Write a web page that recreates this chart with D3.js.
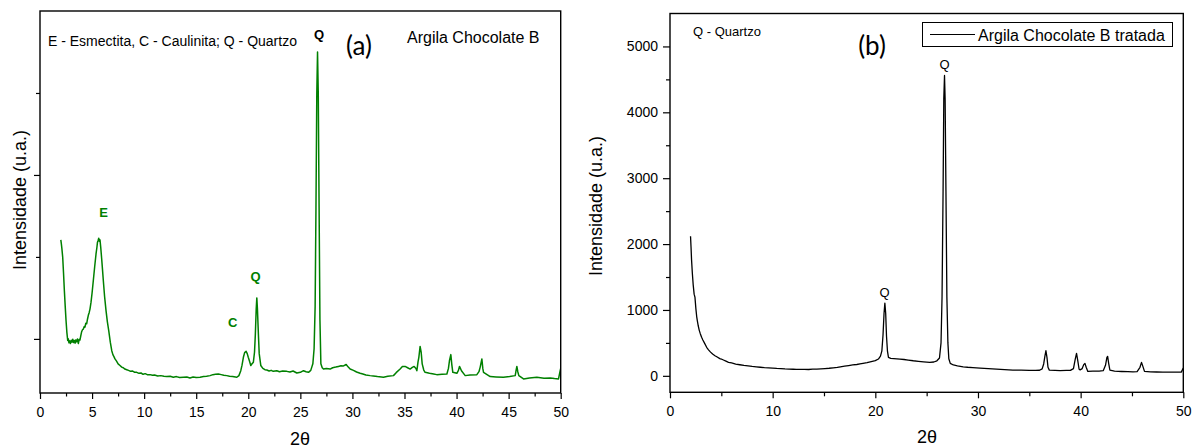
<!DOCTYPE html>
<html>
<head>
<meta charset="utf-8">
<script src="https://cdn.jsdelivr.net/npm/d3@7"></script>
<style>
html,body{margin:0;padding:0;background:#fff;}
svg{display:block;}
text{font-family:"Liberation Sans",Arial,sans-serif;fill:#000;}
</style>
</head>
<body>
<svg id="chart" width="1195" height="448"></svg>
<script>
// ---------- DATA ----------
// Panel (a): Argila Chocolate B  [2θ, intensity (a.u.)]
const seriesA = [
[2.00,802],[2.05,790],[2.10,776],[2.18,749],[2.26,700],[2.34,647],[2.42,600],[2.50,556],[2.58,520],[2.66,495],
[2.72,500],[2.78,488],[2.85,494],[2.92,486],[3.00,496],[3.08,490],[3.15,499],[3.22,489],[3.30,495],[3.38,487],
[3.45,497],[3.52,491],[3.60,500],[3.68,486],[3.76,498],[3.84,497],[3.92,510],[4.00,522],[4.08,528],[4.16,530],
[4.25,538],[4.32,536],[4.40,548],[4.48,546],[4.56,560],[4.64,572],[4.72,580],[4.80,591],[4.90,612],[5.00,640],
[5.12,678],[5.25,720],[5.38,759],[5.46,778],[5.52,795],[5.58,800],[5.64,807],[5.70,798],[5.76,802],[5.83,780],
[5.92,745],[6.00,712],[6.08,678],[6.20,630],[6.34,586],[6.47,552],[6.60,525],[6.75,490],[6.89,464],[7.00,452],
[7.10,446],[7.20,439],[7.35,432],[7.50,424],[7.68,419],[7.85,414],[8.00,412],[8.15,408],[8.33,406],[8.50,404],
[8.70,401],[8.90,402],[9.10,398],[9.29,398],[9.50,395],[9.70,396],[9.90,392],[10.10,394],[10.30,391],[10.57,391],
[10.80,389],[11.00,390],[11.30,387],[11.60,388],[11.90,386],[12.17,385],[12.50,386],[12.80,383],[13.10,385],[13.40,382],
[13.77,383],[14.10,384],[14.40,381],[14.70,384],[15.00,382],[15.37,383],[15.70,385],[16.00,386],[16.33,388],[16.60,391],
[16.85,392],[17.13,393],[17.40,391],[17.65,389],[17.93,388],[18.20,386],[18.50,385],[18.90,383],[19.10,388],[19.28,403],
[19.40,420],[19.53,444],[19.65,458],[19.79,462],[19.90,455],[20.00,444],[20.12,432],[20.24,419],[20.36,424],[20.49,429],
[20.60,460],[20.68,515],[20.76,590],[20.82,625],[20.88,590],[20.97,515],[21.05,455],[21.20,419],[21.40,410],[21.60,406],
[21.78,405],[22.00,402],[22.20,404],[22.40,401],[22.74,403],[23.00,400],[23.30,402],[23.70,401],[24.00,399],[24.30,402],
[24.66,396],[25.00,398],[25.30,403],[25.55,400],[25.78,398],[26.00,404],[26.20,424],[26.32,470],[26.42,600],[26.50,900],
[26.58,1250],[26.65,1375],[26.72,1250],[26.80,900],[26.88,560],[26.97,424],[27.10,412],[27.22,408],[27.50,410],[27.86,408],
[28.10,412],[28.40,414],[28.66,416],[28.90,418],[29.10,417],[29.40,422],[29.60,414],[29.78,408],[30.10,404],[30.40,399],
[30.74,395],[31.00,393],[31.30,390],[31.70,388],[32.00,387],[32.40,385],[32.98,383],[33.40,386],[33.94,388],[34.20,397],
[34.58,408],[34.80,416],[35.06,416],[35.30,412],[35.54,408],[35.75,413],[35.93,416],[36.10,410],[36.19,403],[36.30,430],
[36.38,444],[36.50,477],[36.60,460],[36.70,424],[36.85,405],[36.98,398],[37.40,395],[37.80,393],[38.10,391],[38.60,392],
[39.07,393],[39.22,410],[39.32,434],[39.45,452],[39.55,420],[39.64,398],[40.03,395],[40.18,404],[40.28,416],[40.40,408],
[40.47,403],[40.83,388],[41.30,390],[41.95,391],[42.15,400],[42.27,414],[42.43,439],[42.52,410],[42.59,398],[43.23,385],
[43.80,384],[44.50,383],[45.10,385],[45.63,388],[45.72,405],[45.79,416],[45.88,400],[45.98,388],[46.43,378],[47.00,381],
[47.71,383],[48.40,380],[48.99,381],[49.40,379],[49.79,378],[49.95,403],[50.00,410]
];

// Panel (b): Argila Chocolate B tratada  [2θ, intensity]
const seriesB = [
[2.00,2120],[2.05,1950],[2.10,1760],[2.18,1550],[2.26,1380],[2.35,1240],[2.43,1195],[2.52,1020],[2.60,900],[2.66,838],
[2.75,760],[2.85,690],[2.95,640],[3.08,585],[3.20,545],[3.35,500],[3.57,433],[3.75,395],[3.95,360],[4.15,330],
[4.38,305],[4.60,285],[4.85,262],[5.00,255],[5.20,240],[5.45,222],[5.70,205],[6.00,195],[6.40,178],[6.80,168],
[7.20,158],[7.60,150],[8.00,142],[8.40,137],[8.80,130],[9.20,124],[9.60,121],[10.00,117],[10.40,112],[10.80,110],
[11.20,105],[11.60,103],[12.00,100],[12.30,98],[12.70,97],[13.10,99],[13.50,96],[13.90,101],[14.30,102],[14.70,106],
[15.10,110],[15.50,115],[15.90,122],[16.30,128],[16.60,137],[17.00,146],[17.40,155],[17.80,165],[18.20,172],[18.50,180],
[18.80,189],[19.20,200],[19.60,215],[20.00,230],[20.30,255],[20.50,300],[20.64,380],[20.75,620],[20.85,950],[20.93,1104],
[21.01,950],[21.09,600],[21.18,380],[21.28,280],[21.50,265],[21.80,262],[22.10,258],[22.40,255],[22.80,248],[23.20,240],
[23.70,229],[24.20,220],[24.70,212],[25.30,204],[25.70,210],[26.00,228],[26.25,270],[26.40,500],[26.50,1200],[26.60,2800],
[26.67,4200],[26.74,4560],[26.80,4200],[26.88,2800],[26.97,1200],[27.07,500],[27.16,260],[27.30,189],[27.60,165],[28.00,152],
[28.56,137],[29.00,130],[29.50,124],[30.20,117],[31.00,110],[31.80,102],[32.60,95],[33.40,87],[34.20,86],[35.00,84],
[35.60,82],[36.00,85],[36.25,105],[36.40,180],[36.52,300],[36.62,381],[36.72,280],[36.82,130],[36.95,87],[37.50,84],
[38.00,80],[38.60,82],[39.00,82],[39.30,110],[39.47,250],[39.60,341],[39.72,230],[39.85,100],[39.95,90],[40.15,110],
[40.30,170],[40.42,189],[40.54,130],[40.70,67],[41.20,70],[41.80,72],[42.20,78],[42.42,160],[42.56,280],[42.63,296],
[42.73,190],[42.85,85],[43.30,70],[44.00,66],[44.60,64],[45.10,61],[45.50,65],[45.78,130],[45.93,204],[46.07,140],
[46.22,67],[46.80,60],[47.40,58],[48.00,56],[48.60,57],[49.20,55],[49.80,56],[50.00,117]
];

// Tick values
const xMajorA = [0,5,10,15,20,25,30,35,40,45,50];
const xMinorA = [2.5,7.5,12.5,17.5,22.5,27.5,32.5,37.5,42.5,47.5];
const yMajorA = [500,1000];
const yMinorA = [750,1250];
const xMajorB = [0,10,20,30,40,50];
const xMinorB = [5,15,25,35,45];
const yMajorB = [0,1000,2000,3000,4000,5000];
const yMinorB = [500,1500,2500,3500,4500];

// Peak annotations
const peaksA = [
  {label:"E", x:6.1, y:212, color:"#008000"},
  {label:"C", x:18.5, y:322, color:"#008000"},
  {label:"Q", x:20.7, y:276, color:"#008000"},
  {label:"Q", x:26.8, y:34, color:"#000"}
];
const peaksB = [
  {label:"Q", x:20.9, v:1104},
  {label:"Q", x:26.75, v:4560}
];

// ---------- DRAW ----------
const svg = d3.select("#chart");
svg.append("rect").attr("width",1195).attr("height",448).attr("fill","#fff");

function drawAxes(g, x, y, opts){
  const [x0,x1] = x.range(), [y0,y1] = y.range();
  const ax = g.append("g").attr("transform",`translate(0,${y0})`)
    .call(d3.axisBottom(x).tickValues(opts.xMajor).tickSize(opts.xMajorLen).tickSizeOuter(0).tickPadding(8).tickFormat(d3.format("d")));
  ax.select(".domain").remove();
  ax.selectAll("text").attr("font-size","14px");
  ax.selectAll("line").attr("stroke","#000").attr("stroke-width",1.2);
  const axm = g.append("g").attr("transform",`translate(0,${y0})`)
    .call(d3.axisBottom(x).tickValues(opts.xMinor).tickSize(opts.xMinorLen).tickSizeOuter(0).tickFormat(""));
  axm.select(".domain").remove();
  axm.selectAll("line").attr("stroke","#000").attr("stroke-width",1.2);
  const ay = g.append("g").attr("transform",`translate(${x0},0)`)
    .call(d3.axisLeft(y).tickValues(opts.yMajor).tickSize(opts.yMajorLen).tickSizeOuter(0).tickPadding(5)
      .tickFormat(opts.yLabels ? d3.format("d") : ""));
  ay.select(".domain").remove();
  ay.selectAll("text").attr("font-size","14px");
  ay.selectAll("line").attr("stroke","#000").attr("stroke-width",1.2);
  const aym = g.append("g").attr("transform",`translate(${x0},0)`)
    .call(d3.axisLeft(y).tickValues(opts.yMinor).tickSize(opts.yMinorLen).tickSizeOuter(0).tickFormat(""));
  aym.select(".domain").remove();
  aym.selectAll("line").attr("stroke","#000").attr("stroke-width",1.2);
  g.append("rect").attr("x",x0).attr("y",y1).attr("width",x1-x0).attr("height",y0-y1)
    .attr("fill","none").attr("stroke","#000").attr("stroke-width",1.4);
}

// Panel A
const xA = d3.scaleLinear().domain([0,50]).range([40,560.7]);
const yA = d3.scaleLinear().domain([335,1500]).range([393,11]);
const gA = svg.append("g");
svg.append("clipPath").attr("id","clipA").append("rect")
  .attr("x",40).attr("y",11).attr("width",520.7).attr("height",382);
gA.append("path").datum(seriesA)
  .attr("clip-path","url(#clipA)")
  .attr("d", d3.line().x(d=>xA(d[0])).y(d=>yA(d[1])))
  .attr("fill","none").attr("stroke","#008000").attr("stroke-width",1.5).attr("stroke-linejoin","round");
drawAxes(gA, xA, yA, {xMajor:xMajorA, xMinor:xMinorA, yMajor:yMajorA, yMinor:yMinorA,
  xMajorLen:6, xMinorLen:3.5, yMajorLen:6, yMinorLen:4, yLabels:false});

gA.selectAll(".peakA").data(peaksA).join("text")
  .attr("x", d=>xA(d.x)).attr("y", d=>d.y)
  .attr("text-anchor","middle").attr("dominant-baseline","central")
  .attr("font-size","13px").attr("font-weight","bold").style("fill", d=>d.color)
  .text(d=>d.label);

gA.append("text").attr("x",48).attr("y",41).attr("dominant-baseline","central")
  .attr("font-size","14px").text("E - Esmectita, C - Caulinita; Q - Quartzo");
gA.append("text").attr("x",359).attr("y",45).attr("text-anchor","middle").attr("dominant-baseline","central")
  .attr("font-size","26px").style("font-family","Lato, 'Open Sans', sans-serif").text("(a)");
gA.append("text").attr("x",407).attr("y",37.5).attr("dominant-baseline","central")
  .attr("font-size","16px").text("Argila Chocolate B");
gA.append("text").attr("transform","translate(20,200) rotate(-90)")
  .attr("text-anchor","middle").attr("dominant-baseline","central")
  .attr("font-size","18px").text("Intensidade (u.a.)");
gA.append("text").attr("x",300).attr("y",439).attr("text-anchor","middle").attr("dominant-baseline","central")
  .attr("font-size","18px").text("2θ");

// Panel B
const xB = d3.scaleLinear().domain([0,50]).range([670,1183.3]);
const yB = d3.scaleLinear().domain([-250,5500]).range([392.3,13.5]);
const gB = svg.append("g");
gB.append("path").datum(seriesB)
  .attr("d", d3.line().x(d=>xB(d[0])).y(d=>yB(d[1])))
  .attr("fill","none").attr("stroke","#000").attr("stroke-width",1.3).attr("stroke-linejoin","round");
drawAxes(gB, xB, yB, {xMajor:xMajorB, xMinor:xMinorB, yMajor:yMajorB, yMinor:yMinorB,
  xMajorLen:6, xMinorLen:4, yMajorLen:7, yMinorLen:4, yLabels:true});

gB.selectAll(".peakB").data(peaksB).join("text")
  .attr("x", d=>xB(d.x)).attr("y", d=>yB(d.v)-11)
  .attr("text-anchor","middle").attr("dominant-baseline","central")
  .attr("font-size","13px").text(d=>d.label);

gB.append("text").attr("x",693).attr("y",31).attr("dominant-baseline","central")
  .attr("font-size","13px").text("Q - Quartzo");
gB.append("text").attr("x",872).attr("y",45).attr("text-anchor","middle").attr("dominant-baseline","central")
  .attr("font-size","26px").style("font-family","Lato, 'Open Sans', sans-serif").text("(b)");
gB.append("rect").attr("x",922.5).attr("y",22.5).attr("width",250).attr("height",24)
  .attr("fill","#fff").attr("stroke","#000").attr("stroke-width",1);
gB.append("line").attr("x1",930).attr("x2",975).attr("y1",34.5).attr("y2",34.5)
  .attr("stroke","#000").attr("stroke-width",1.1);
gB.append("text").attr("x",978).attr("y",35).attr("dominant-baseline","central")
  .attr("font-size","16px").text("Argila Chocolate B tratada");
gB.append("text").attr("transform","translate(596,206) rotate(-90)")
  .attr("text-anchor","middle").attr("dominant-baseline","central")
  .attr("font-size","18px").text("Intensidade (u.a.)");
gB.append("text").attr("x",927).attr("y",437).attr("text-anchor","middle").attr("dominant-baseline","central")
  .attr("font-size","18px").text("2θ");
</script>
</body>
</html>
